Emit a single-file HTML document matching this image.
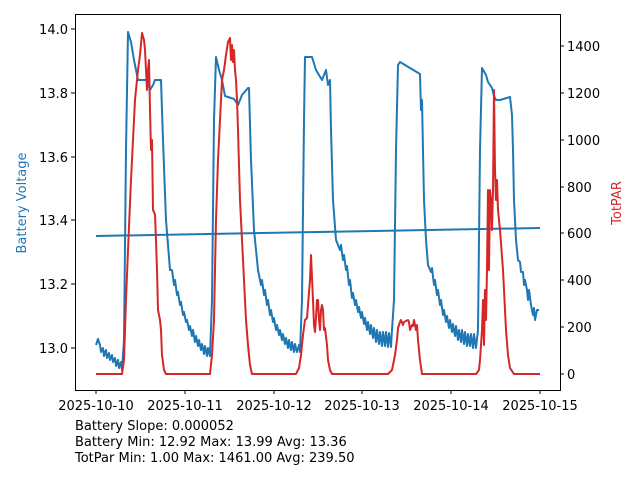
<!DOCTYPE html><html><head><style>body{margin:0;background:#fff}svg{display:block}text{font-family:"DejaVu Sans","Liberation Sans",sans-serif;font-size:13px;fill:#000}</style></head><body>
<svg width="640" height="480" xmlns="http://www.w3.org/2000/svg">
<rect x="75.5" y="14.5" width="485" height="376" fill="none" stroke="#000" stroke-width="1"/>
<g stroke="#000">
<line x1="75" x2="71" y1="348" y2="348"/><line x1="75" x2="71" y1="284" y2="284"/><line x1="75" x2="71" y1="220" y2="220"/><line x1="75" x2="71" y1="157" y2="157"/><line x1="75" x2="71" y1="93" y2="93"/><line x1="75" x2="71" y1="29" y2="29"/>
<line x1="560" x2="564" y1="374" y2="374"/><line x1="560" x2="564" y1="327" y2="327"/><line x1="560" x2="564" y1="280" y2="280"/><line x1="560" x2="564" y1="233" y2="233"/><line x1="560" x2="564" y1="187" y2="187"/><line x1="560" x2="564" y1="140" y2="140"/><line x1="560" x2="564" y1="93" y2="93"/><line x1="560" x2="564" y1="46" y2="46"/>
<line x1="96" x2="96" y1="390" y2="394"/><line x1="185" x2="185" y1="390" y2="394"/><line x1="274" x2="274" y1="390" y2="394"/><line x1="362" x2="362" y1="390" y2="394"/><line x1="451" x2="451" y1="390" y2="394"/><line x1="540" x2="540" y1="390" y2="394"/>
</g>
<g text-anchor="end"><text x="68" y="353">13.0</text><text x="68" y="289">13.2</text><text x="68" y="225">13.4</text><text x="68" y="162">13.6</text><text x="68" y="98">13.8</text><text x="68" y="34">14.0</text></g>
<g><text x="567" y="379">0</text><text x="567" y="332">200</text><text x="567" y="285">400</text><text x="567" y="238">600</text><text x="567" y="192">800</text><text x="567" y="145">1000</text><text x="567" y="98">1200</text><text x="567" y="51">1400</text></g>
<g text-anchor="middle"><text x="96" y="410">2025-10-10</text><text x="185" y="410">2025-10-11</text><text x="274" y="410">2025-10-12</text><text x="362" y="410">2025-10-13</text><text x="451" y="410">2025-10-14</text><text x="540" y="410">2025-10-15</text></g>
<text x="26" y="203" text-anchor="middle" transform="rotate(-90 26 203)" style="fill:#1f77b4">Battery Voltage</text>
<text x="621" y="203" text-anchor="middle" transform="rotate(-90 621 203)" style="fill:#d62728">TotPAR</text>
<text x="75" y="430">Battery Slope: 0.000052</text>
<text x="75" y="446">Battery Min: 12.92 Max: 13.99 Avg: 13.36</text>
<text x="75" y="462">TotPar Min: 1.00 Max: 1461.00 Avg: 239.50</text>
<g fill="none" stroke-width="2" stroke-linejoin="round">
<polyline stroke="#1f77b4" points="96,345 98,339 100,345 101,352 103,348 104,356 106,350 107,358 109,353 110,360 112,355 113,362 115,358 116,366 118,360 119,368 121,362 122,370 124,340 126,150 128,32 131,42 134,60 138,80 147,80 150,90 153,85 155,80 160,80 161,80 163,140 166,220 168,245 170,270 172,270 174,285 175,280 177,295 178,292 180,305 181,302 183,315 184,312 186,322 187,320 189,330 190,326 192,336 193,330 195,342 196,336 198,346 199,340 201,350 202,344 204,354 205,346 207,356 208,348 210,356 212,300 214,120 216,57 219,70 222,80 225,96 234,99 238,105 242,95 248,88 249,88 251,160 254,230 258,270 261,285 262,280 264,295 265,290 267,305 268,300 270,315 271,310 273,322 274,318 276,330 277,325 279,335 280,330 282,340 283,334 285,344 286,338 288,348 289,340 291,350 292,342 294,352 295,344 297,352 299,345 300,352 302,300 304,120 305,57 312,57 316,70 322,80 326,70 328,85 330,80 331,130 333,200 336,240 340,250 341,245 343,260 344,255 346,270 347,266 349,285 350,280 352,298 353,293 355,305 356,300 358,312 359,307 361,318 362,312 364,324 365,318 367,330 368,322 370,334 371,325 373,338 374,328 376,342 377,330 379,344 380,332 382,346 383,332 385,346 386,332 388,347 389,333 391,347 392,330 394,300 396,150 398,65 400,62 410,68 420,74 421,110 422,100 424,200 426,240 428,265 431,272 432,268 434,285 435,280 437,295 438,290 440,305 441,300 443,315 444,310 446,322 447,316 449,328 450,320 452,332 453,324 455,336 456,326 458,340 459,330 461,342 462,330 464,344 465,332 467,346 468,334 470,346 471,334 473,348 474,334 476,348 478,330 480,150 482,68 486,75 488,82 490,85 492,88 494,96 496,100 500,100 510,97 512,115 513,150 514,200 516,240 518,260 520,262 521,272 523,272 524,285 525,280 527,290 528,300 529,290 531,305 532,310 533,315 534,308 535,320 537,310 539,310"/>
<line stroke="#1f77b4" x1="96" y1="236" x2="540" y2="228"/>
<polyline stroke="#d62728" points="96,374 122,374 124,360 126,300 128,250 131,180 135,100 138,70 140,55 142,33 144,40 145,50 146,70 147,90 148,70 149,60 150,110 151,150 152,140 153,210 154,212 155,215 156,240 157,270 158,310 160,320 161,330 162,355 164,370 166,374 210,374 212,355 214,320 216,220 218,160 222,80 224,70 226,55 228,42 230,38 231,60 232,45 233,62 234,50 235,70 236,80 237,100 238,130 240,200 242,240 243,260 245,300 246,320 248,345 250,365 252,374 296,374 299,368 301,355 303,335 305,320 307,318 310,280 311,255 313,300 314,325 315,332 316,318 317,300 318,300 319,320 320,330 321,310 322,305 323,310 324,330 325,328 327,345 328,360 330,370 332,374 388,374 392,370 395,355 397,340 398,328 400,322 401,320 403,325 404,322 406,321 408,320 409,322 410,330 412,325 413,326 414,320 416,330 417,325 418,340 420,360 422,374 476,374 479,370 480,360 482,330 483,300 484,345 485,290 486,320 487,270 488,190 489,270 490,190 491,200 492,230 493,190 494,90 495,170 496,200 497,180 498,210 500,230 503,270 506,330 508,355 510,368 514,374 540,374"/>
</g>
</svg>
</body></html>
